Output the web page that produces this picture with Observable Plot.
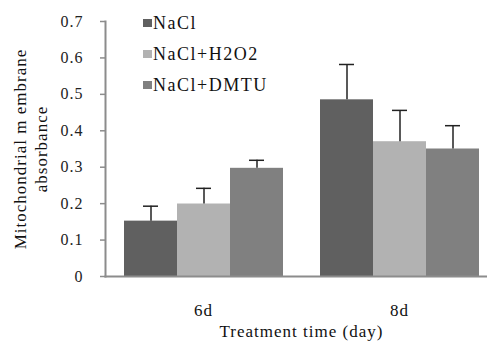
<!DOCTYPE html>
<html><head><meta charset="utf-8">
<script src="https://cdn.jsdelivr.net/npm/d3@7"></script>
<script src="https://cdn.jsdelivr.net/npm/@observablehq/plot@0.6"></script>
<style>
body{margin:0;background:#fff}
#wrap{position:relative;width:487px;height:341px;font-family:"Liberation Serif",serif;color:#111}
#legend{position:absolute;left:143px;top:13px;font-size:18px;letter-spacing:1.5px;line-height:20px}
#legend .row{height:31px;display:flex;align-items:flex-start}
#legend .sw{width:9px;height:8px;margin-top:6px;margin-right:1px}
</style>
</head><body>
<div id="wrap"><div id="legend"></div></div>
<script>
const days = ["6d", "8d"];
const series = ["NaCl", "NaCl+H2O2", "NaCl+DMTU"];
const colors = ["#606060", "#b2b2b2", "#808080"];
const values = {
  "NaCl":      [0.152, 0.485],
  "NaCl+H2O2": [0.199, 0.370],
  "NaCl+DMTU": [0.297, 0.350]
};
const errors = {
  "NaCl":      [0.041, 0.097],
  "NaCl+H2O2": [0.043, 0.086],
  "NaCl+DMTU": [0.022, 0.064]
};
const yTicks = [0, 0.1, 0.2, 0.3, 0.4, 0.5, 0.6, 0.7];
const yLabel = "Mitochondrial m embrane\nabsorbance";
const xLabel = "Treatment time (day)";

const data = [];
days.forEach((d, i) => series.forEach(s => data.push({day: d, series: s, value: values[s][i], err: values[s][i] + errors[s][i]})));

const chart = Plot.plot({
  width: 487, height: 341,
  marginLeft: 105, marginRight: -10, marginTop: 21, marginBottom: 65,
  style: {fontFamily: "Liberation Serif", fontSize: "17px", letterSpacing: "1px", color: "#111", background: "transparent"},
  fx: {domain: days, padding: 0},
  x: {domain: series, paddingInner: 0, paddingOuter: 0.326, axis: null},
  y: {domain: [0, 0.7]},
  color: {domain: series, range: colors},
  marks: [
    Plot.barY(data, {fx: "day", x: "series", y: "value", fill: "series"}),
    Plot.ruleX(data, {fx: "day", x: "series", y1: "value", y2: "err", stroke: "#222", strokeWidth: 1.5}),
    Plot.tickY(data, {fx: "day", x: "series", y: "err", stroke: "#222", strokeWidth: 1.5, insetLeft: 19, insetRight: 19}),
    Plot.frame({anchor: "bottom", facet: "super", stroke: "#8c8c8c", strokeWidth: 2}),
    Plot.frame({anchor: "left", facet: "super", stroke: "#8c8c8c", strokeWidth: 2}),
    Plot.axisY({ticks: yTicks, tickFormat: d => d === 0 ? "0" : d3.format(".1f")(d), tickSize: 5, tickPadding: 17,
      stroke: "#8c8c8c", fill: "#222", fontSize: 16, strokeWidth: 1.5, label: null}),
    Plot.text([yLabel], {frameAnchor: "left", facet: "super", rotate: -90, textAnchor: "middle", dx: -76, lineHeight: 1.24,
      fontSize: 17, fill: "#111"}),
    Plot.axisFx({anchor: "bottom", tickSize: 0, tickPadding: 27, fill: "#111",
      label: xLabel, labelAnchor: "center", labelOffset: 60, labelArrow: "none"})
  ]
});
document.getElementById("wrap").prepend(chart);

const leg = d3.select("#legend");
series.forEach((s, i) => {
  const r = leg.append("div").attr("class", "row");
  r.append("div").attr("class", "sw").style("background", colors[i]);
  r.append("span").text(s);
});
</script>
</body></html>
